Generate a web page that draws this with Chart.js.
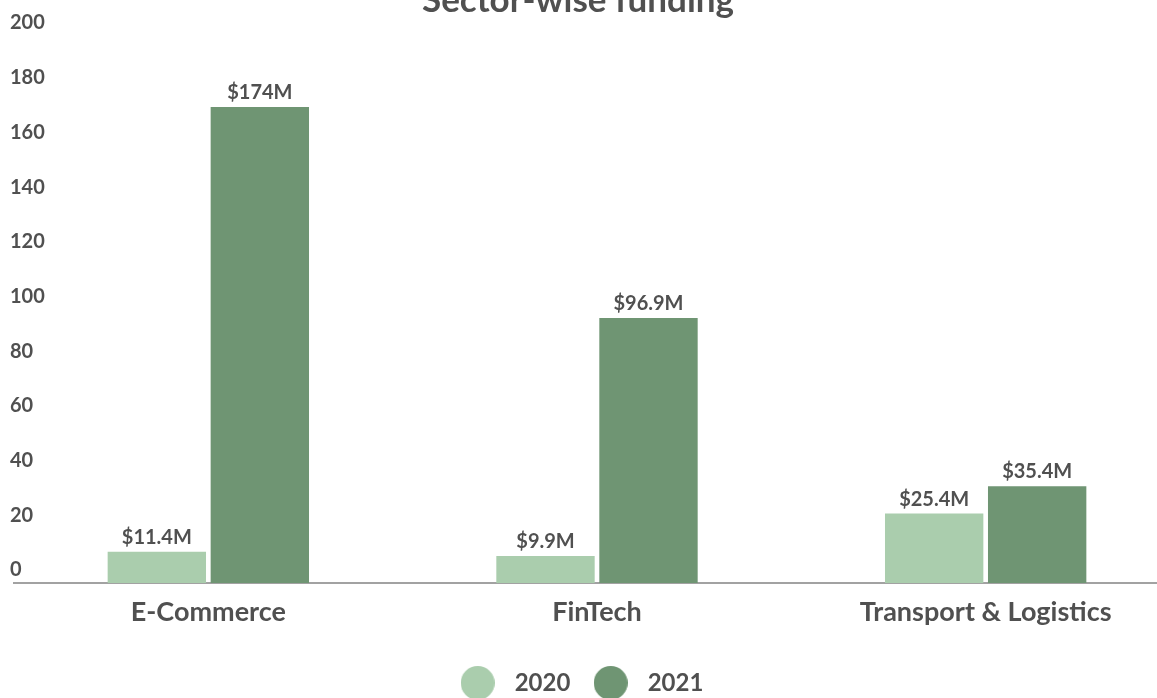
<!DOCTYPE html>
<html>
<head>
<meta charset="utf-8">
<script src="https://cdn.jsdelivr.net/npm/chart.js@4.4.1/dist/chart.umd.min.js"></script>
<style>
  html, body { margin: 0; padding: 0; background: #ffffff; overflow: hidden; width: 1157px; height: 698px; }
  #wrap { width: 1180px; height: 698px; position: relative; }
</style>
</head>
<body>
<div id="wrap"><canvas id="c"></canvas></div>
<script>
const categories = ['E-Commerce', 'FinTech', 'Transport & Logistics'];
const seriesNames = ['2020', '2021'];
const values2020 = [11.4, 9.9, 25.4];
const values2021 = [174, 96.9, 35.4];
const yTicks = [0, 20, 40, 60, 80, 100, 120, 140, 160, 180, 200];
const titleText = 'Sector-wise funding';

const TEXT = '#505050';
const LIGHT = '#aacdad';
const DARK = '#6f9573';
const seriesColors = [LIGHT, DARK];

function makeDot(color) {
  const c = document.createElement('canvas');
  c.width = 34; c.height = 34;
  const g = c.getContext('2d');
  g.fillStyle = color;
  g.beginPath();
  g.arc(17, 17, 17, 0, Math.PI * 2);
  g.fill();
  return c;
}
const dots = seriesColors.map(makeDot);

const valueLabels = {
  id: 'valueLabels',
  afterDatasetsDraw(chart) {
    const ctx = chart.ctx;
    ctx.save();
    ctx.font = 'bold 20px Lato';
    ctx.fillStyle = TEXT;
    ctx.textAlign = 'center';
    ctx.textBaseline = 'alphabetic';
    chart.data.datasets.forEach((ds, i) => {
      chart.getDatasetMeta(i).data.forEach((bar, j) => {
        ctx.fillText('$' + ds.data[j] + 'M', bar.x, bar.y - 8);
      });
    });
    ctx.restore();
  }
};

new Chart(document.getElementById('c'), {
  type: 'bar',
  data: {
    labels: categories,
    datasets: [
      { label: seriesNames[0], data: values2020, backgroundColor: seriesColors[0], borderWidth: 0,
        categoryPercentage: 0.53, barPercentage: 0.955 },
      { label: seriesNames[1], data: values2021, backgroundColor: seriesColors[1], borderWidth: 0,
        categoryPercentage: 0.53, barPercentage: 0.955 }
    ]
  },
  options: {
    responsive: true,
    maintainAspectRatio: false,
    animation: false,
    layout: { padding: { left: -24, right: 0, top: 0, bottom: -7 } },
    plugins: {
      title: {
        display: true,
        text: titleText,
        color: TEXT,
        font: { family: 'Lato', size: 35, weight: 'bold' },
        padding: { top: -20.5, bottom: 14.5 }
      },
      legend: {
        position: 'bottom',
        labels: {
          usePointStyle: true,
          pointStyleWidth: 50,
          color: TEXT,
          padding: 15.3,
          font: { family: 'Lato', size: 24, weight: 'bold' },
          generateLabels(chart) {
            const items = Chart.defaults.plugins.legend.labels.generateLabels(chart);
            items.forEach((it, i) => { it.pointStyle = dots[i]; });
            return items;
          }
        }
      },
      tooltip: { enabled: false }
    },
    scales: {
      x: {
        grid: { display: false, drawTicks: false },
        border: { display: true, color: '#a2a2a2', width: 2 },
        ticks: {
          color: TEXT,
          padding: 13.3,
          font: { family: 'Lato', size: 27, weight: 'bold' }
        },
        afterFit(scale) { scale.height = 72.7; }
      },
      y: {
        min: 0,
        max: 200,
        grid: { display: false, drawTicks: false },
        border: { display: false },
        afterBuildTicks(scale) { scale.ticks = yTicks.map(v => ({ value: v })); },
        ticks: {
          mirror: true,
          padding: -4,
          labelOffset: -13,
          color: TEXT,
          font: { family: 'Lato', size: 20, weight: 'bold' }
        },
        afterFit(scale) { scale.width = 38; }
      }
    }
  },
  plugins: [valueLabels]
});
</script>
</body>
</html>
